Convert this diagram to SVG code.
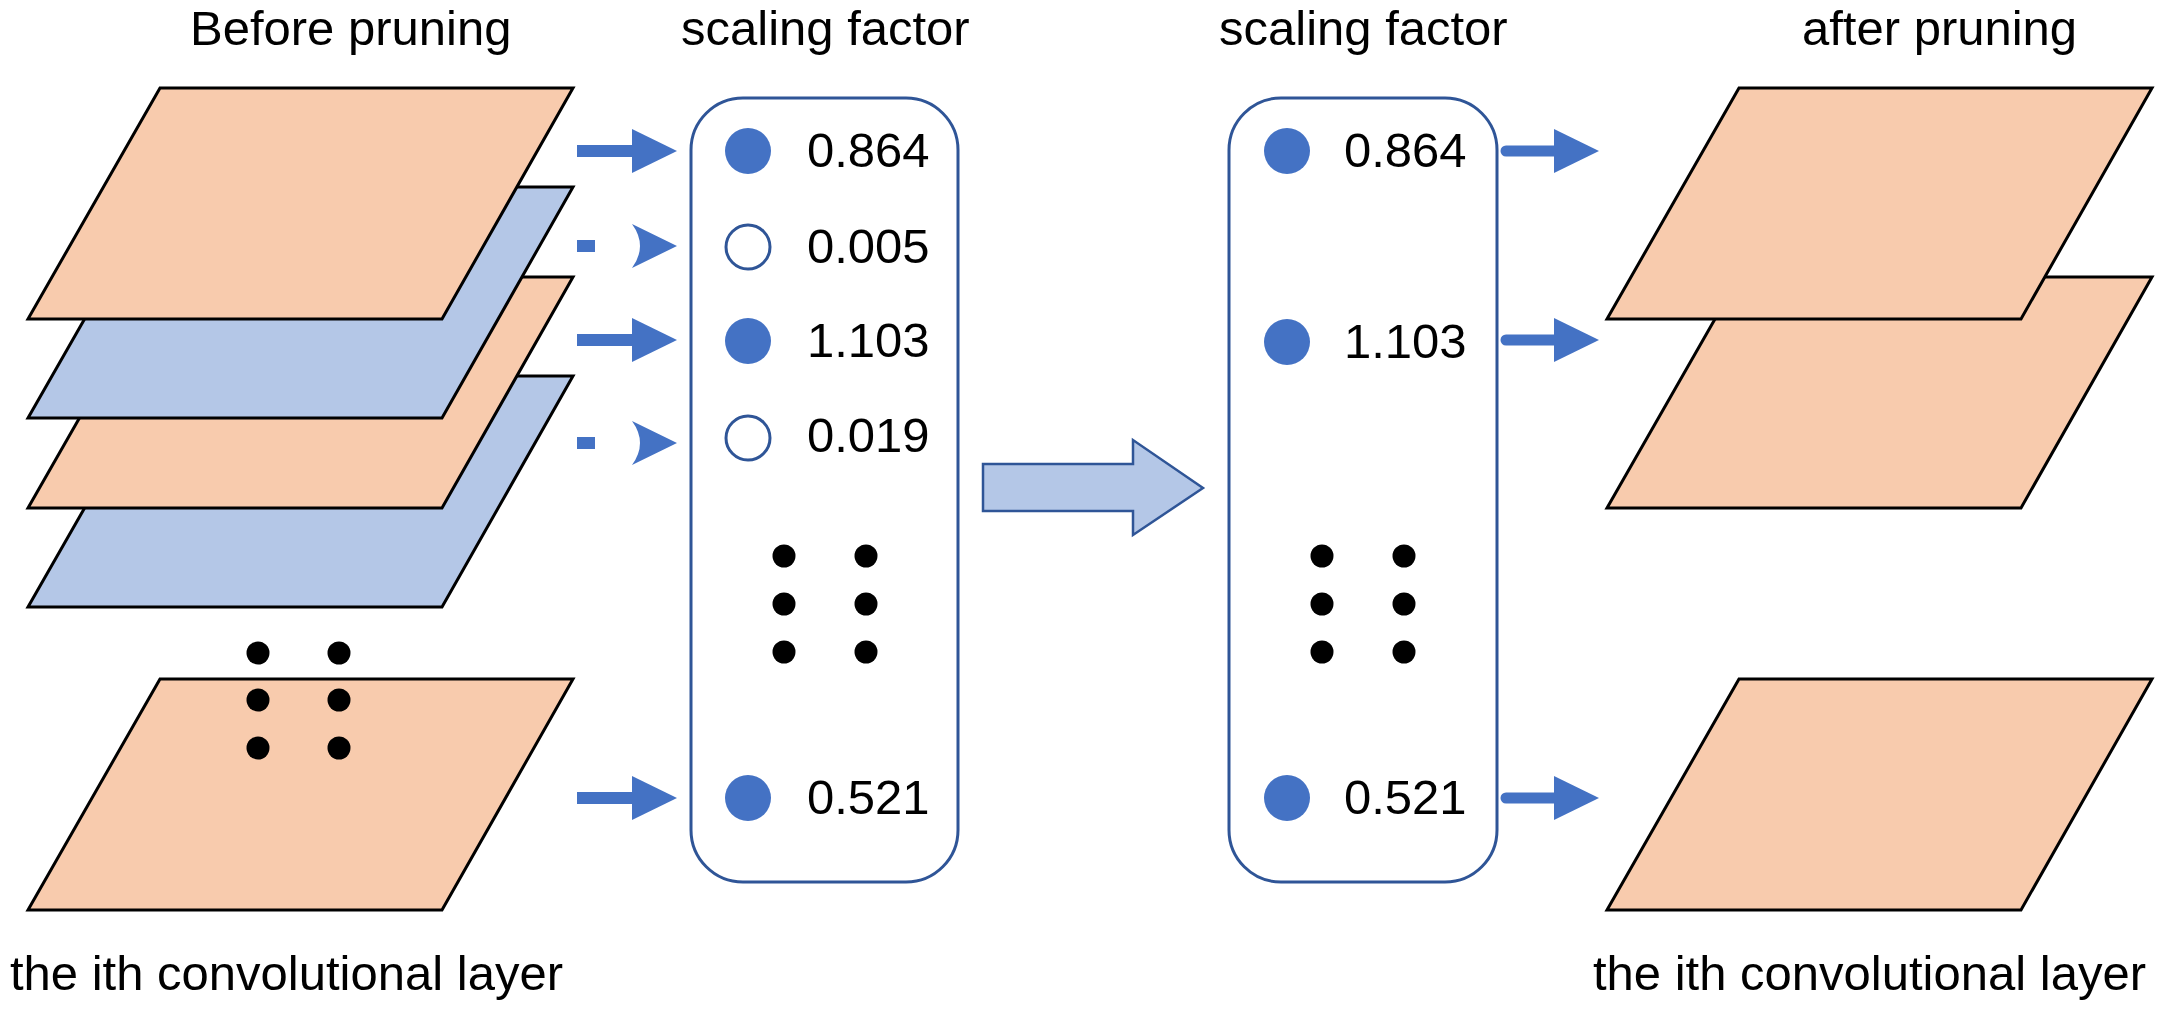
<svg xmlns="http://www.w3.org/2000/svg" width="2165" height="1011" viewBox="0 0 2165 1011">
<defs>
<style>
.txt{font-family:"Liberation Sans",Arial,sans-serif;font-size:49px;fill:#000}
.org{fill:#F8CBAD;stroke:#000;stroke-width:3;stroke-linejoin:miter}
.blu{fill:#B4C7E7;stroke:#000;stroke-width:3;stroke-linejoin:miter}
.box{fill:#fff;stroke:#2F5597;stroke-width:3}
.on{fill:#4472C4}
.off{fill:#fff;stroke:#2F5597;stroke-width:3}
.dot{fill:#000}
.arr{fill:#4472C4}
</style>
<polygon id="layer" points="160,0 573,0 442,231 28,231"/>
<polygon id="head" points="632,-22 677,0 632,22"/>
</defs>
<rect width="2165" height="1011" fill="#fff"/>

<!-- titles -->
<g id="titles">
<text class="txt" x="190" y="45">Before pruning</text>
<text class="txt" x="681" y="45">scaling factor</text>
<text class="txt" x="1219" y="45">scaling factor</text>
<text class="txt" x="1802" y="45">after pruning</text>
<text class="txt" x="10" y="990">the ith convolutional layer</text>
<text class="txt" x="1593" y="990">the ith convolutional layer</text>
</g>

<!-- left stack of layers -->
<g id="left-layers">
<use href="#layer" class="blu" transform="translate(0,376)"/>
<use href="#layer" class="org" transform="translate(0,277)"/>
<use href="#layer" class="blu" transform="translate(0,187)"/>
<use href="#layer" class="org" transform="translate(0,88)"/>
<use href="#layer" class="org" transform="translate(0,679)"/>
<circle class="dot" cx="258" cy="653" r="11.5"/>
<circle class="dot" cx="339" cy="653" r="11.5"/>
<circle class="dot" cx="258" cy="700" r="11.5"/>
<circle class="dot" cx="339" cy="700" r="11.5"/>
<circle class="dot" cx="258" cy="748" r="11.5"/>
<circle class="dot" cx="339" cy="748" r="11.5"/>
</g>

<!-- left scaling factor box -->
<g id="box-before">
<rect class="box" x="691" y="98" width="267" height="784" rx="52" ry="52"/>
<circle class="on" cx="748" cy="151" r="23"/>
<text class="txt" x="807" y="167">0.864</text>
<circle class="off" cx="748" cy="247" r="22"/>
<text class="txt" x="807" y="263">0.005</text>
<circle class="on" cx="748" cy="341" r="23"/>
<text class="txt" x="807" y="357">1.103</text>
<circle class="off" cx="748" cy="438" r="22"/>
<text class="txt" x="807" y="452">0.019</text>
<circle class="dot" cx="784" cy="556" r="11.5"/>
<circle class="dot" cx="866" cy="556" r="11.5"/>
<circle class="dot" cx="784" cy="604" r="11.5"/>
<circle class="dot" cx="866" cy="604" r="11.5"/>
<circle class="dot" cx="784" cy="652" r="11.5"/>
<circle class="dot" cx="866" cy="652" r="11.5"/>
<circle class="on" cx="748" cy="798" r="23"/>
<text class="txt" x="807" y="814">0.521</text>
</g>

<!-- right scaling factor box -->
<g id="box-after">
<rect class="box" x="1229" y="98" width="268" height="784" rx="52" ry="52"/>
<circle class="on" cx="1287" cy="151" r="23"/>
<text class="txt" x="1344" y="167">0.864</text>
<circle class="on" cx="1287" cy="342" r="23"/>
<text class="txt" x="1344" y="358">1.103</text>
<circle class="dot" cx="1322" cy="556" r="11.5"/>
<circle class="dot" cx="1404" cy="556" r="11.5"/>
<circle class="dot" cx="1322" cy="604" r="11.5"/>
<circle class="dot" cx="1404" cy="604" r="11.5"/>
<circle class="dot" cx="1322" cy="652" r="11.5"/>
<circle class="dot" cx="1404" cy="652" r="11.5"/>
<circle class="on" cx="1287" cy="798" r="23"/>
<text class="txt" x="1344" y="814">0.521</text>
</g>

<!-- right layers -->
<g id="right-layers">
<use href="#layer" class="org" transform="translate(1579,277)"/>
<use href="#layer" class="org" transform="translate(1579,88)"/>
<use href="#layer" class="org" transform="translate(1579,679)"/>
</g>

<!-- connectors -->
<g id="connectors">
<rect class="arr" x="577" y="145" width="60" height="12"/>
<use href="#head" class="arr" transform="translate(0,151)"/>
<rect class="arr" x="577" y="240" width="18" height="12"/>
<path class="arr" d="M632,224 Q648,246 632,268 L677,246 Z"/>
<rect class="arr" x="577" y="334" width="60" height="12"/>
<use href="#head" class="arr" transform="translate(0,340)"/>
<rect class="arr" x="577" y="437" width="18" height="12"/>
<path class="arr" d="M632,421 Q648,443 632,465 L677,443 Z"/>
<rect class="arr" x="577" y="792" width="60" height="12"/>
<use href="#head" class="arr" transform="translate(0,798)"/>

<g id="big-arrow">
<polygon points="983,464 1133,464 1133,440 1203,488 1133,535 1133,511 983,511" fill="#B4C7E7" stroke="#2F5597" stroke-width="2.5" stroke-linejoin="miter"/>
</g>

<line x1="1506" y1="151" x2="1560" y2="151" stroke="#4472C4" stroke-width="11" stroke-linecap="round"/>
<use href="#head" class="arr" transform="translate(922,151)"/>
<line x1="1506" y1="340" x2="1560" y2="340" stroke="#4472C4" stroke-width="11" stroke-linecap="round"/>
<use href="#head" class="arr" transform="translate(922,340)"/>
<line x1="1506" y1="798" x2="1560" y2="798" stroke="#4472C4" stroke-width="11" stroke-linecap="round"/>
<use href="#head" class="arr" transform="translate(922,798)"/>
</g>
</svg>
